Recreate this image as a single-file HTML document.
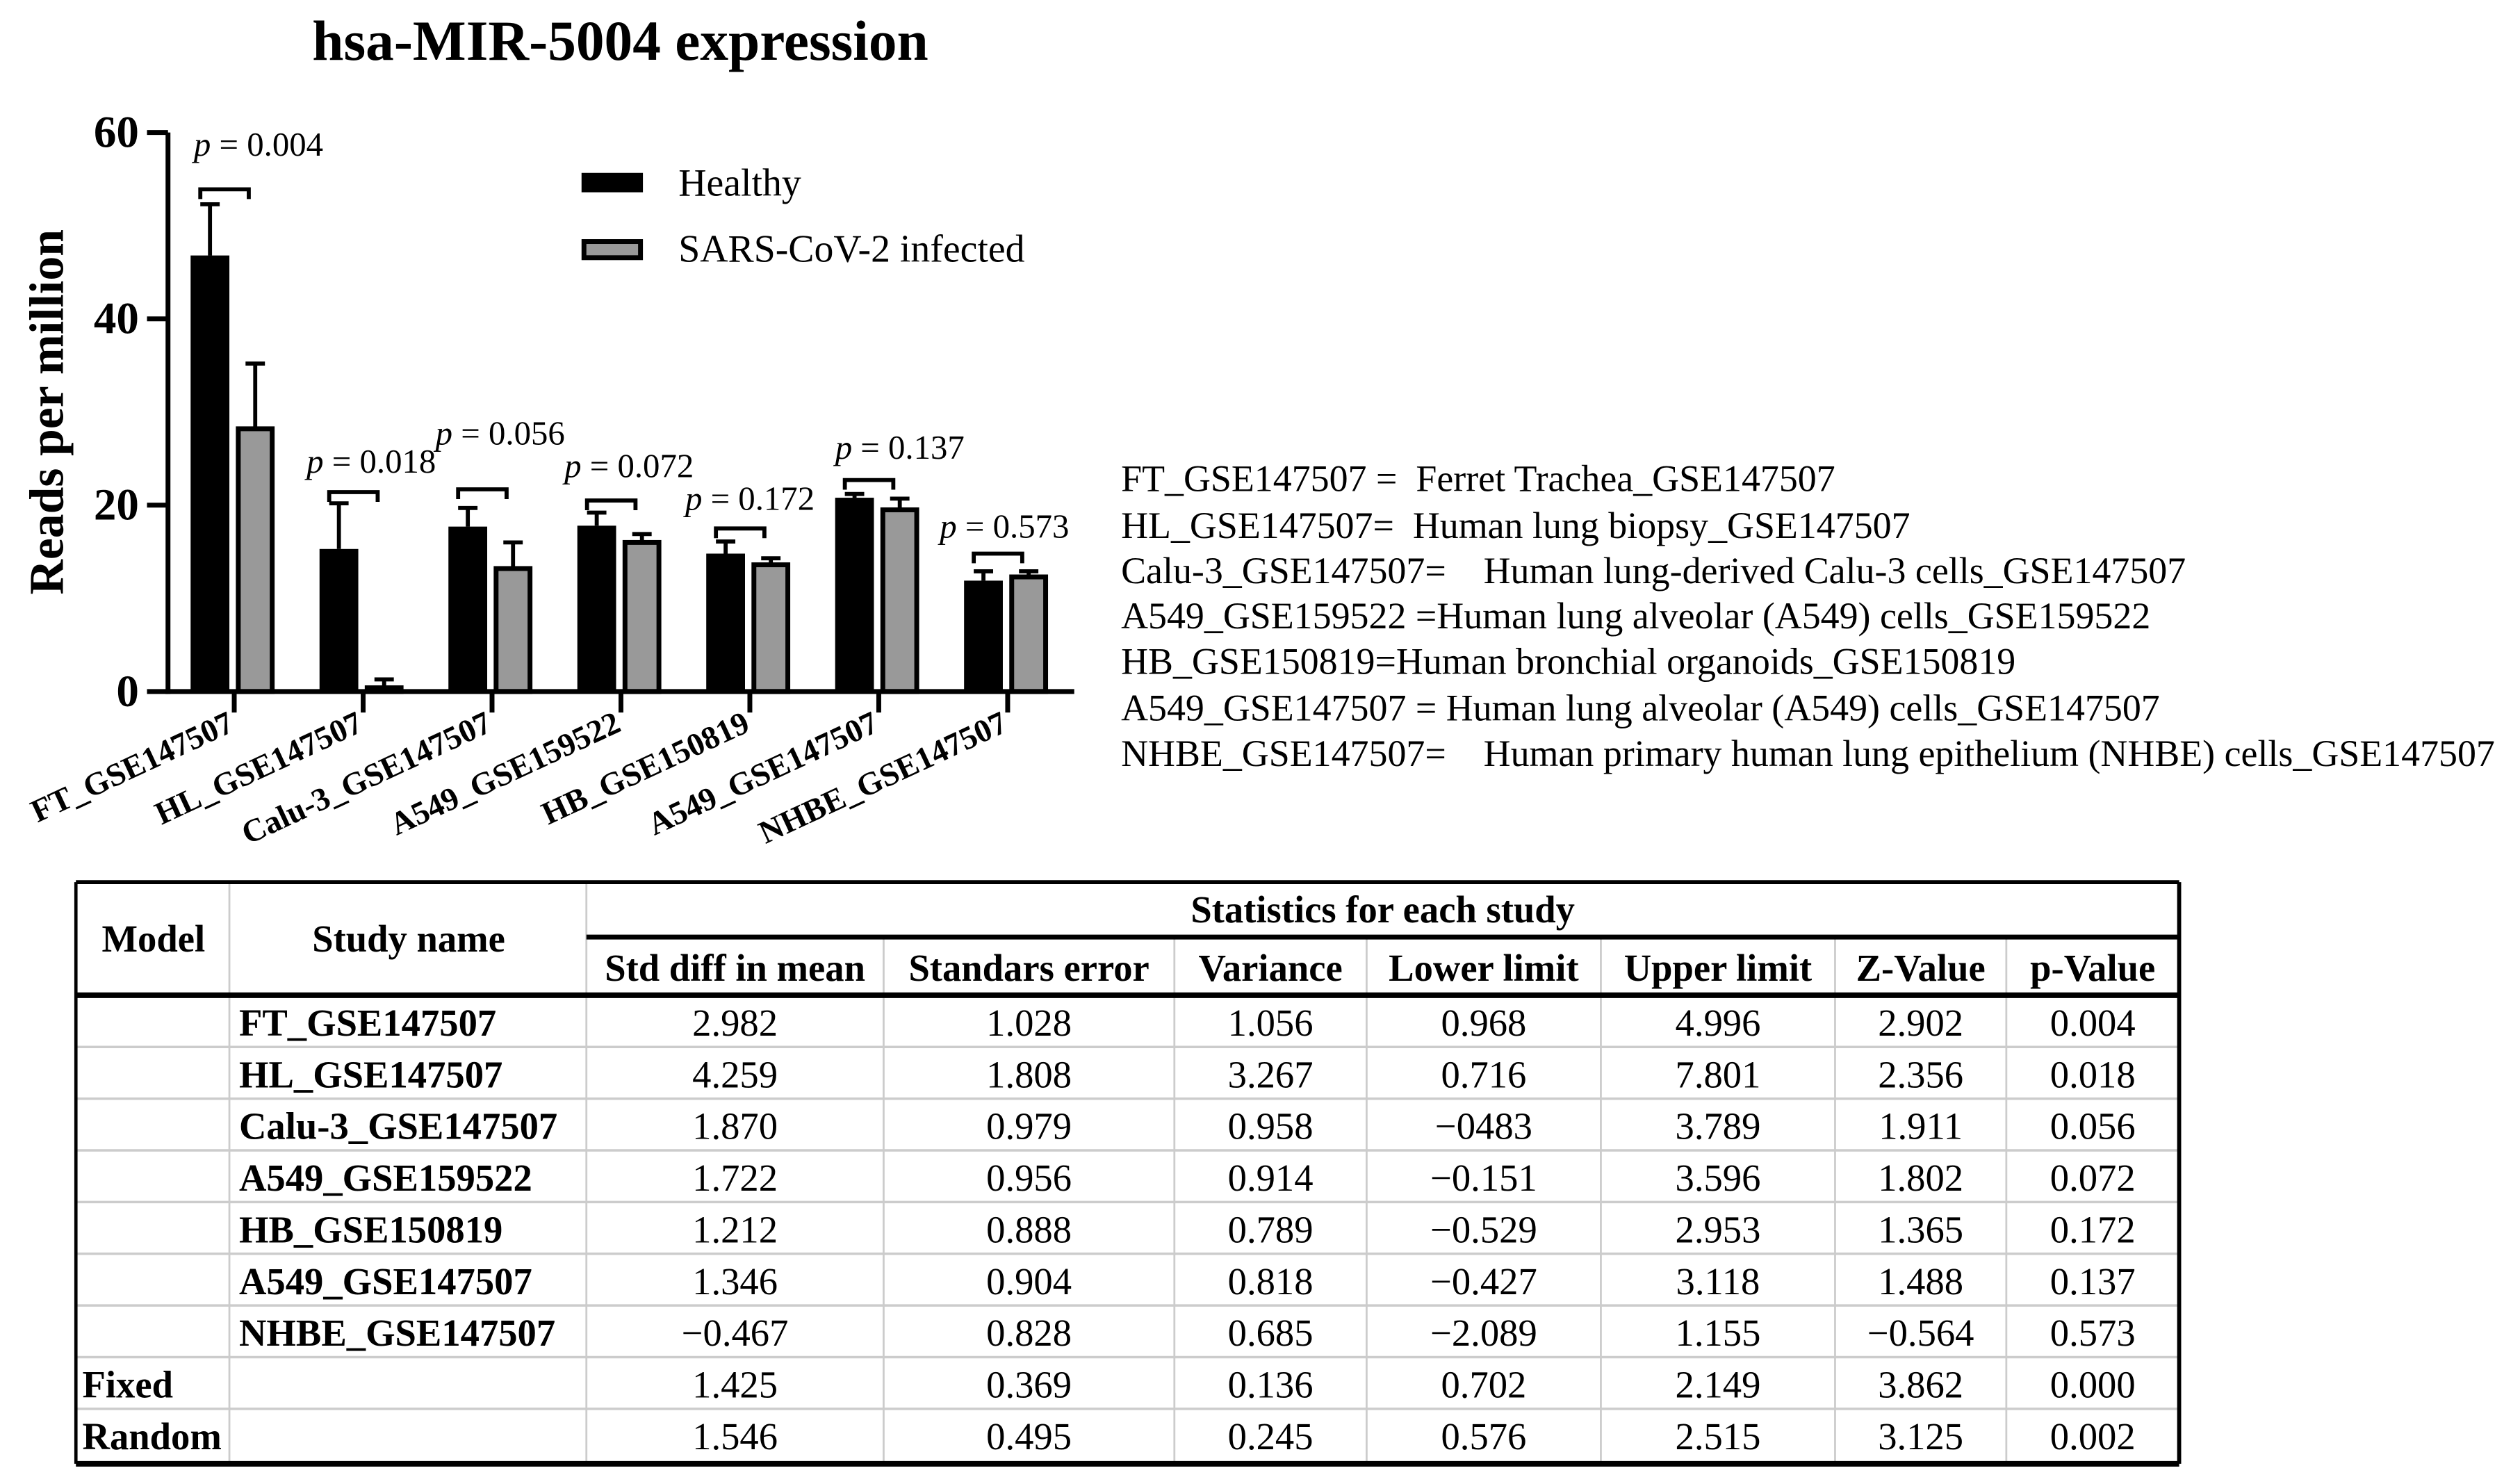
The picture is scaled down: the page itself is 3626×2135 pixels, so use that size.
<!DOCTYPE html>
<html><head><meta charset="utf-8"><style>
html,body{margin:0;padding:0;background:#fff;}
svg{display:block;}
text{font-family:"Liberation Serif",serif;fill:#000;}
</style></head><body>
<svg id="root" width="3626" height="2135" viewBox="0 0 1560 918.5" xmlns="http://www.w3.org/2000/svg">
<text x="384" y="37" font-size="35" font-weight="bold" text-anchor="middle">hsa-MIR-5004 expression</text>
<text transform="translate(39,255) rotate(-90)" font-size="30" font-weight="bold" text-anchor="middle">Reads per million</text>
<g id="chart"></g>
<g>
<rect x="360" y="107" width="38" height="12" fill="#000"/>
<text x="420" y="121" font-size="24">Healthy</text>
<rect x="361.5" y="149.5" width="35" height="10" fill="#999" stroke="#000" stroke-width="3"/>
<text x="420" y="162" font-size="24">SARS-CoV-2 infected</text>
</g>
<g font-size="23.2">
<text x="694" y="304">FT_GSE147507 = &#160;Ferret Trachea_GSE147507</text>
<text x="694" y="333">HL_GSE147507= &#160;Human lung biopsy_GSE147507</text>
<text x="694" y="361">Calu-3_GSE147507= &#160;&#160;&#160;Human lung-derived Calu-3 cells_GSE147507</text>
<text x="694" y="389">A549_GSE159522 =Human lung alveolar (A549) cells_GSE159522</text>
<text x="694" y="417">HB_GSE150819=Human bronchial organoids_GSE150819</text>
<text x="694" y="446">A549_GSE147507 = Human lung alveolar (A549) cells_GSE147507</text>
<text x="694" y="474">NHBE_GSE147507= &#160;&#160;&#160;Human primary human lung epithelium (NHBE) cells_GSE147507</text>
</g>
<g id="table"></g>
</svg>
<script>
const NS='http://www.w3.org/2000/svg';
const categories=['FT_GSE147507','HL_GSE147507','Calu-3_GSE147507','A549_GSE159522','HB_GSE150819','A549_GSE147507','NHBE_GSE147507'];
const healthy=[46.8,15.3,17.7,17.8,14.8,20.8,11.9];
const infected=[28.2,0.4,13.2,16.0,13.6,19.5,12.3];
const healthyErr=[5.5,4.9,2.0,1.4,1.3,0.4,1.0];
const infectedErr=[7.0,0.9,2.8,0.9,0.7,1.2,0.6];
const pLabels=['0.004','0.018','0.056','0.072','0.172','0.137','0.573'];
const bracketLevel=[53.9,21.4,21.7,20.5,17.5,22.7,14.8];
const labelLevel=[57.5,23.5,26.5,23.0,19.5,25.0,16.5];
const labelShift=[0,-10,-10,-10,-15,-2,-17];
const yTicks=[0,20,40,60];

function el(tag,attrs,parent){const e=document.createElementNS(NS,tag);for(const k in attrs)e.setAttribute(k,attrs[k]);parent.appendChild(e);return e;}
const g=document.getElementById('chart');
const y=v=>428-v*(346/60);
const xc=i=>145+i*79.8;

yTicks.forEach(t=>{
  const l=el('line',{x1:91,x2:104,y1:y(t),y2:y(t),stroke:'#000','stroke-width':3},g);
  
  
  const tx=el('text',{x:86,y:y(t)+9,'font-size':28,'font-weight':'bold','text-anchor':'end'},g);
  tx.textContent=t;
  
  
});

categories.forEach((c,i)=>{
  const cx=xc(i);
  const hb=el('rect',{x:cx-27,y:y(healthy[i]),width:24,height:y(0)-y(healthy[i]),fill:'#000'},g);
  
  
  const ib=el('rect',{x:cx+2.5,y:y(infected[i]),width:21,height:Math.max(0,y(0)-y(infected[i])),fill:'#999',stroke:'#000','stroke-width':3},g);
  
  
  const e1=el('path',{d:`M${cx-15} ${y(healthy[i])} V${y(healthy[i]+healthyErr[i])} M${cx-21} ${y(healthy[i]+healthyErr[i])} H${cx-9}`,stroke:'#000','stroke-width':2.5,fill:'none'},g);
  
  
  const e2=el('path',{d:`M${cx+13} ${y(infected[i])} V${y(infected[i]+infectedErr[i])} M${cx+7} ${y(infected[i]+infectedErr[i])} H${cx+19}`,stroke:'#000','stroke-width':2.5,fill:'none'},g);
  
  
  const by=y(bracketLevel[i]);
  const br=el('path',{d:`M${cx-21} ${by+6} V${by} H${cx+9} V${by+6}`,stroke:'#000','stroke-width':2.5,fill:'none'},g);
  
  
  const pt=el('text',{x:cx-25+labelShift[i],y:y(labelLevel[i]),'font-size':21},g);
  pt.innerHTML='<tspan font-style="italic">p</tspan> = '+pLabels[i];
  
  
  const tk=el('line',{x1:cx,x2:cx,y1:428,y2:441,stroke:'#000','stroke-width':3},g);
  
  
  const xl=el('text',{transform:`translate(${cx+1},452) rotate(-25)`,'font-size':20,'font-weight':'bold','text-anchor':'end'},g);
  xl.textContent=c;
  
  
});
const ya=el('line',{x1:104,x2:104,y1:82,y2:429.5,stroke:'#000','stroke-width':3},g);


const xa=el('line',{x1:102.5,x2:665,y1:428,y2:428,stroke:'#000','stroke-width':3},g);



// table
const tg=document.getElementById('table');
const colX=[47,142,363,547,727,846,991,1136,1242,1349];
const headers=['Std diff in mean','Standars error','Variance','Lower limit','Upper limit','Z-Value','p-Value'];
const rows=[
['','FT_GSE147507','2.982','1.028','1.056','0.968','4.996','2.902','0.004'],
['','HL_GSE147507','4.259','1.808','3.267','0.716','7.801','2.356','0.018'],
['','Calu-3_GSE147507','1.870','0.979','0.958','\u22120483','3.789','1.911','0.056'],
['','A549_GSE159522','1.722','0.956','0.914','\u22120.151','3.596','1.802','0.072'],
['','HB_GSE150819','1.212','0.888','0.789','\u22120.529','2.953','1.365','0.172'],
['','A549_GSE147507','1.346','0.904','0.818','\u22120.427','3.118','1.488','0.137'],
['','NHBE_GSE147507','\u22120.467','0.828','0.685','\u22122.089','1.155','\u22120.564','0.573'],
['Fixed','','1.425','0.369','0.136','0.702','2.149','3.862','0.000'],
['Random','','1.546','0.495','0.245','0.576','2.515','3.125','0.002']];
const tableTop=546,h1=580,h2=616,rh=32;
for(let c=1;c<colX.length-1;c++){
  const yy=c>=3?h1:tableTop;
  const l=el('line',{x1:colX[c],x2:colX[c],y1:yy,y2:906,stroke:'#ccc','stroke-width':1.2},tg);
  
  
}
for(let r=1;r<rows.length;r++){
  const l=el('line',{x1:47,x2:1349,y1:h2+r*rh,y2:h2+r*rh,stroke:'#ccc','stroke-width':1.5},tg);
  
  
}
[[47,1349,tableTop,tableTop,2.5],[47,1349,906,906,3.5],[363,1349,h1,h1,3],[47,1349,h2,h2,3.5],[47,47,tableTop,906,2],[1349,1349,tableTop,906,2.5]].forEach(a=>{
  const l=el('line',{x1:a[0],x2:a[1],y1:a[2],y2:a[3],stroke:'#000','stroke-width':a[4]},tg);
  
  
});
function txt(s,x,yy,anchor,bold,name){
  const t=el('text',{x:x,y:yy,'font-size':23.5,'text-anchor':anchor,'font-weight':bold?'bold':'normal'},tg);
  t.textContent=s;
  
  
}
txt('Model',95,589,'middle',true,'header-model');
txt('Study name',253,589,'middle',true,'header-study-name');
txt('Statistics for each study',856,571,'middle',true,'header-statistics');
headers.forEach((hd,i)=>txt(hd,(colX[i+2]+colX[i+3])/2,607,'middle',true,'column-header'));
rows.forEach((row,r)=>{
  const yy=h2+r*rh+25;
  if(row[0])txt(row[0],51,yy,'start',true,'model-label');
  if(row[1])txt(row[1],148,yy,'start',true,'study-name');
  for(let c=2;c<row.length;c++)txt(row[c],(colX[c]+colX[c+1])/2,yy,'middle',false,'table-value');
});
</script>
</body></html>
